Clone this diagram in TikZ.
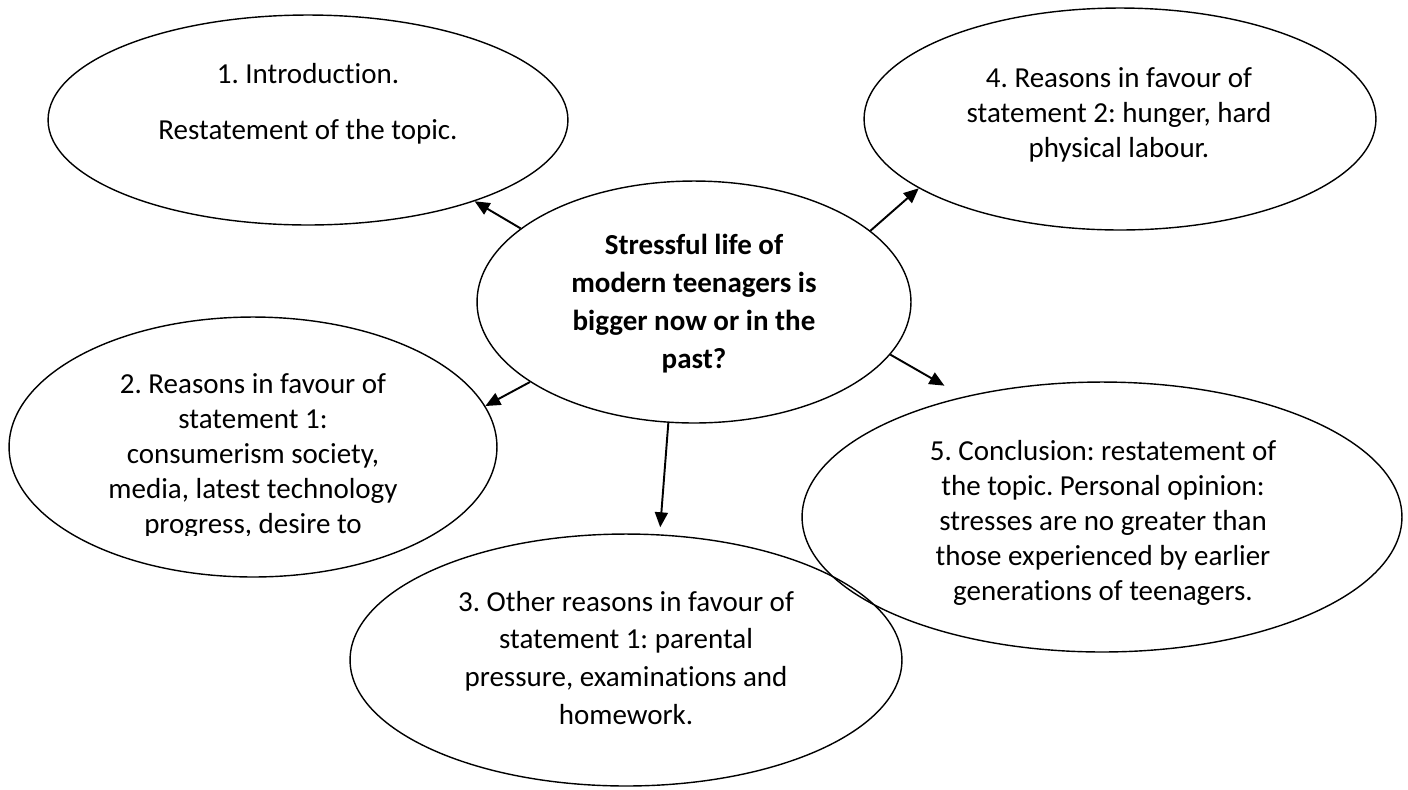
\documentclass[tikz,border=0pt]{standalone}
\usepackage{fontspec}
\setmainfont{Carlito}[Ligatures=CommonOff]
\usetikzlibrary{shapes.geometric}
\usetikzlibrary{arrows.meta}
\frenchspacing

\begin{document}
\begin{tikzpicture}[x=0.02cm,y=-0.02cm,line width=0.8pt,
    bubble/.style={ellipse,draw,inner sep=0pt},
    txt/.style={align=center,font=\fontsize{16.5}{20}\selectfont},
    arr/.style={-{Triangle[length=0.3cm,width=0.26cm]},line width=1.1pt}]
    \useasboundingbox (0,0) rectangle (1408,789);

    % the six bubbles
    \node[bubble,minimum width=10.4cm,minimum height=4.2cm] (e1) at (308,120) {};
    \node[bubble,minimum width=10.24cm,minimum height=4.44cm] (e4) at (1120,119) {};
    \node[bubble,minimum width=8.68cm,minimum height=4.84cm] (c) at (694,302) {};
    \node[bubble,minimum width=9.76cm,minimum height=5.2cm] (e2) at (253,447) {};
    \node[bubble,minimum width=12cm,minimum height=5.4cm] (e5) at (1102,517) {};
    \node[bubble,minimum width=11.04cm,minimum height=5.04cm] (e3) at (626,660) {};

    \node[txt] (t1) at (308,104) {1. Introduction.\\[12pt]Restatement of the topic.};
    \node[txt] (t4) at (1119,115) {4. Reasons in favour of\\statement 2: hunger, hard\\physical labour.};
    \node[txt,font=\fontsize{16.5}{21.6}\selectfont\bfseries] (tc) at (694,304)
        {Stressful life of\\modern teenagers is\\bigger now or in the\\past?};
    \begin{scope}
        \clip (0,300) rectangle (520,535);
        \node[txt] (t2) at (253,456) {2. Reasons in favour of\\statement 1:\\consumerism society,\\media, latest technology\\progress, desire to};
    \end{scope}
    \node[txt] (t5) at (1103,523) {5. Conclusion: restatement of\\the topic. Personal opinion:\\stresses are no greater than\\those experienced by earlier\\generations of teenagers.};
    \node[txt,font=\fontsize{16.5}{21.6}\selectfont] (t3) at (626,658) {3. Other reasons in favour of\\statement 1: parental\\pressure, examinations and\\homework.};

    \draw[arr] (c.157) -- (e1.-26);
    \draw[arr] (c.22) -- (e4.-161);
    \draw[arr] (c.-154) -- (e2.10);
    \draw[arr,shorten >=0.44cm] (c.-15) -- (e5.139);
    \draw[arr,shorten >=0.14cm] (c.-102) -- (e3.75);
\end{tikzpicture}
\end{document}
